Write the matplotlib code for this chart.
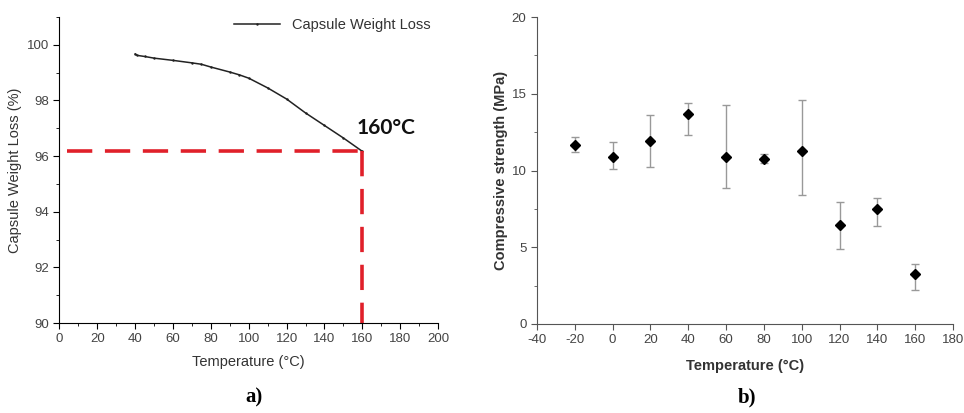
"""
Capsule weight loss (a) and compressive strength (b) vs temperature
"""

import numpy as np
import matplotlib
matplotlib.use("Agg")
import matplotlib.pyplot as plt
from matplotlib.ticker import MultipleLocator

plt.rcParams['font.family'] = ['Liberation Sans', 'DejaVu Sans']
plt.rcParams['axes.unicode_minus'] = False

# panel a: TGA curve
temp_a = [40, 41, 45, 50, 60, 70, 75, 80, 90, 95, 100, 110, 120, 130, 140, 150, 160]
weight_a = [99.67, 99.62, 99.58, 99.52, 99.44, 99.35, 99.3, 99.2, 99.02, 98.92,
            98.8, 98.45, 98.05, 97.55, 97.1, 96.65, 96.17]
cutoff_temp = 160
cutoff_weight = 96.17

# panel b: compressive strength with asymmetric error bars
temp_b = [-20, 0, 20, 40, 60, 80, 100, 120, 140, 160]
strength_b = [11.67, 10.87, 11.9, 13.67, 10.89, 10.78, 11.3, 6.42, 7.52, 3.26]
upper_b = [12.2, 11.85, 13.63, 14.39, 14.3, 11.05, 14.6, 7.93, 8.2, 3.91]
lower_b = [11.24, 10.09, 10.26, 12.33, 8.85, 10.5, 8.41, 4.91, 6.41, 2.22]

tick_grey = '#444444'

fig = plt.figure(figsize=(9.64, 4.13), dpi=100)

# ---------- a) ----------
ax1 = fig.add_axes([0.0617, 0.2179, 0.3927, 0.741])
ax1.plot(temp_a, weight_a, color='#222222', lw=1.1, marker='.', ms=1.5,
         label='Capsule Weight Loss')
ax1.plot([3.8, cutoff_temp], [cutoff_weight, cutoff_weight], color='#e0202a',
         lw=2.6, dashes=(7, 3.5))
ax1.plot([cutoff_temp, cutoff_temp], [cutoff_weight, 90], color='#e0202a',
         lw=2.6, dashes=(7, 3.5))
ax1.text(157, 96.8, '160°C', fontsize=15, fontweight='bold', family='Lato',
         color='#111111')
ax1.set_xlim(0, 200)
ax1.set_ylim(90, 101)
ax1.xaxis.set_major_locator(MultipleLocator(20))
ax1.xaxis.set_minor_locator(MultipleLocator(10))
ax1.yaxis.set_major_locator(MultipleLocator(2))
ax1.yaxis.set_minor_locator(MultipleLocator(1))
ax1.spines['top'].set_visible(False)
ax1.spines['right'].set_visible(False)
ax1.tick_params(which='major', length=4, labelsize=9.5, labelcolor=tick_grey)
ax1.tick_params(which='minor', length=2)
ax1.set_xlabel('Temperature (°C)', fontsize=10.5, color='#333333', labelpad=7)
ax1.set_ylabel('Capsule Weight Loss (%)', fontsize=10.5, color='#333333')
ax1.yaxis.set_label_coords(-0.10, 0.5)
ax1.legend(loc='upper right', frameon=False, fontsize=10.5, handlelength=3.2,
           borderaxespad=0.1, bbox_to_anchor=(1.0, 1.02), labelcolor='#333333')

# ---------- b) ----------
ax2 = fig.add_axes([0.557, 0.2155, 0.4316, 0.743])
err = [np.array(strength_b) - np.array(lower_b), np.array(upper_b) - np.array(strength_b)]
ax2.errorbar(temp_b, strength_b, yerr=err, fmt='D', color='black', ms=5,
             ecolor='#999999', elinewidth=1, capsize=3, capthick=1)
ax2.set_xlim(-40, 180)
ax2.set_ylim(0, 20)
ax2.xaxis.set_major_locator(MultipleLocator(20))
ax2.yaxis.set_major_locator(MultipleLocator(5))
ax2.yaxis.set_minor_locator(MultipleLocator(2.5))
for s in ['top', 'right']:
    ax2.spines[s].set_visible(False)
for s in ['left', 'bottom']:
    ax2.spines[s].set_color('#555555')
ax2.tick_params(which='major', length=4, labelsize=9.5, labelcolor=tick_grey, color='#555555')
ax2.tick_params(which='minor', length=2, color='#555555')
ax2.set_xlabel('Temperature (°C)', fontsize=10.5, fontweight='bold', color='#333333', labelpad=9)
ax2.set_ylabel('Compressive strength (MPa)', fontsize=10.5, fontweight='bold', color='#333333')
ax2.yaxis.set_label_coords(-0.07, 0.5)

fig.text(0.263, 0.025, 'a)', fontsize=15, fontweight='bold', family='Liberation Serif', ha='center')
fig.text(0.775, 0.025, 'b)', fontsize=15, fontweight='bold', family='Liberation Serif', ha='center')

fig.savefig('out.png', dpi=100)
